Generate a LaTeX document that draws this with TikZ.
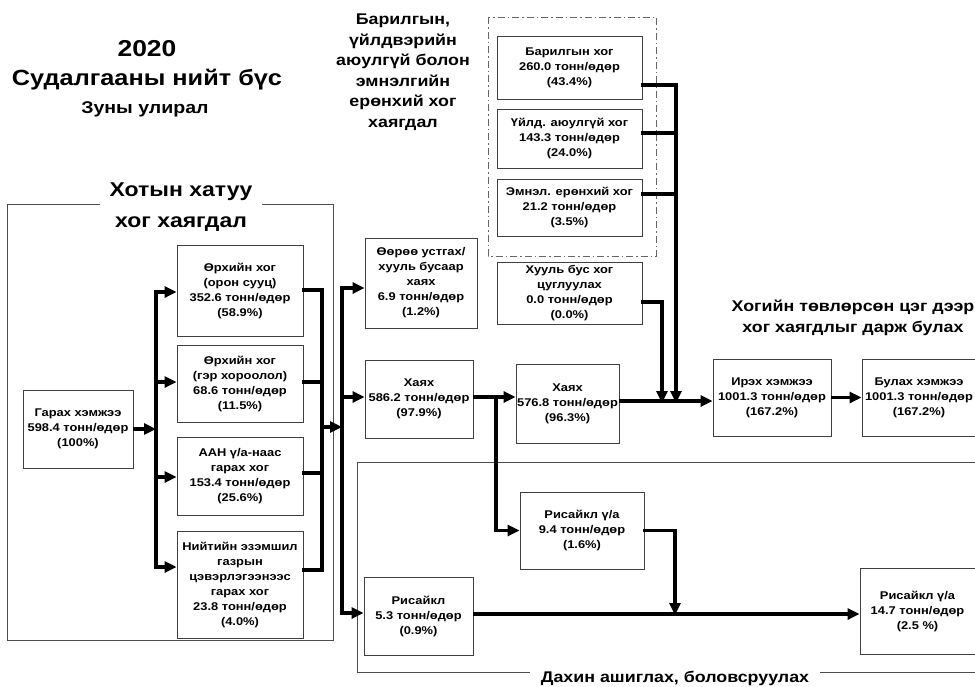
\documentclass[tikz,border=0pt]{standalone}
\usepackage{fontspec}
\setmainfont{Liberation Sans}[FakeStretch=1.15]
\usetikzlibrary{arrows.meta}

\begin{document}
\begin{tikzpicture}[x=1pt,y=-1pt,
  box/.style={draw=black!75, line width=0.9pt, fill=white, align=center,
    font=\fontsize{11.2}{15}\selectfont\bfseries, inner sep=0pt},
  conn/.style={line width=3.6pt, line cap=rect, line join=miter},
  arr/.style={line width=3.6pt, line cap=butt, -{Triangle[length=12pt,width=11pt]}},
  frameline/.style={draw=black!70, line width=0.9pt},
  dashframe/.style={draw=black!60, line width=0.9pt, dash pattern=on 7pt off 3pt on 1.5pt off 3pt},
  bigtitle/.style={font=\fontsize{22}{26}\selectfont\bfseries, align=center},
  midtitle/.style={font=\fontsize{20}{31}\selectfont\bfseries, align=center},
  smalltitle/.style={font=\fontsize{15.5}{20.5}\selectfont\bfseries, align=center}
]
\useasboundingbox (0,0) rectangle (975,686);

% ---- headings ----
\node[font=\fontsize{23}{26}\selectfont\bfseries] (year) at (147,49) {2020};
\node[bigtitle] (region) at (147,80) {Судалгааны нийт бүс};
\node[font=\fontsize{17}{20}\selectfont\bfseries] (season) at (145,109) {Зуны улирал};
\node[smalltitle] (indhead) at (403,72) {Барилгын,\\үйлдвэрийн\\аюулгүй болон\\эмнэлгийн\\ерөнхий хог\\хаягдал};
\node[midtitle] (cityhead) at (181,207) {Хотын хатуу\\хог хаягдал};
\node[smalltitle] (landhead) at (853,318) {Хогийн төвлөрсөн цэг дээр\\хог хаягдлыг дарж булах};
\node[smalltitle] (rechead) at (675,678) {Дахин ашиглах, боловсруулах};

% ---- group frames ----
\draw[frameline] (100,204) -- (7,204) -- (7,640) -- (333,640) -- (333,204) -- (262,204);
\draw[frameline] (975,462) -- (357,462) -- (357,672) -- (530,672);
\draw[frameline] (820,672) -- (975,672);
\draw[dashframe] (488,17) rectangle (656,256);

% ---- municipal waste sources ----
\node[box, minimum width=110pt, minimum height=78pt] (garah) at (78,429)
  {Гарах хэмжээ\\598.4 тонн/өдөр\\(100\%)};
\node[box, minimum width=126pt, minimum height=91pt] (orh1) at (240,290.5)
  {Өрхийн хог\\(орон сууц)\\352.6 тонн/өдөр\\(58.9\%)};
\node[box, minimum width=126pt, minimum height=77pt] (orh2) at (240,383.5)
  {Өрхийн хог\\(гэр хороолол)\\68.6 тонн/өдөр\\(11.5\%)};
\node[box, minimum width=126pt, minimum height=78pt] (aan) at (240,476)
  {ААН ү/а-наас\\гарах хог\\153.4 тонн/өдөр\\(25.6\%)};
\node[box, minimum width=126pt, minimum height=107pt] (niit) at (240,584.5)
  {Нийтийн эзэмшил\\газрын\\цэвэрлэгээнээс\\гарах хог\\23.8 тонн/өдөр\\(4.0\%)};

% ---- destinations ----
\node[box, minimum width=112pt, minimum height=90pt] (oore) at (421,283)
  {Өөрөө устгах/\\хууль бусаар\\хаях\\6.9 тонн/өдөр\\(1.2\%)};
\node[box, minimum width=108pt, minimum height=78pt] (hayah1) at (419,399)
  {Хаях\\586.2 тонн/өдөр\\(97.9\%)};
\node[box, minimum width=103pt, minimum height=79pt] (hayah2) at (567.5,404)
  {Хаях\\576.8 тонн/өдөр\\(96.3\%)};
\node[box, minimum width=145pt, minimum height=63pt] (baril) at (569.5,67.5)
  {Барилгын хог\\260.0 тонн/өдөр\\(43.4\%)};
\node[box, minimum width=145pt, minimum height=59pt] (uild) at (569.5,138.5)
  {Үйлд. аюулгүй хог\\143.3 тонн/өдөр\\(24.0\%)};
\node[box, minimum width=145pt, minimum height=57pt] (emnel) at (569.5,207.5)
  {Эмнэл. ерөнхий хог\\21.2 тонн/өдөр\\(3.5\%)};
\node[box, minimum width=145pt, minimum height=62pt] (huul) at (569.5,293)
  {Хууль бус хог\\цуглуулах\\0.0 тонн/өдөр\\(0.0\%)};
\node[box, minimum width=118pt, minimum height=77pt] (irekh) at (772,397.5)
  {Ирэх хэмжээ\\1001.3 тонн/өдөр\\(167.2\%)};
\node[box, minimum width=114pt, minimum height=77pt] (bulah) at (919,397.5)
  {Булах хэмжээ\\1001.3 тонн/өдөр\\(167.2\%)};
\node[box, minimum width=124pt, minimum height=77pt] (ris94) at (582,530.5)
  {Рисайкл ү/а\\9.4 тонн/өдөр\\(1.6\%)};
\node[box, minimum width=109pt, minimum height=78pt] (ris53) at (418.5,616)
  {Рисайкл\\5.3 тонн/өдөр\\(0.9\%)};
\node[box, minimum width=115pt, minimum height=86pt] (ris147) at (917.5,611)
  {Рисайкл ү/а\\14.7 тонн/өдөр\\(2.5 \%)};

% ---- bus coordinates ----
\coordinate (busA) at (156,429);
\coordinate (busB) at (322,427);
\coordinate (busC) at (342,427);
\coordinate (split) at (496,397);
\coordinate (mergeR) at (675,614);
\coordinate (joinH) at (662,401);
\coordinate (joinI) at (676,401);

% sources fan-out
\draw[arr] (garah.east |- busA) -- (busA);
\draw[conn] (busA |- 0,292) -- (busA |- 0,567);
\draw[arr] (busA |- 0,292) -- (busA |- 0,292 -| orh1.west);
\draw[arr] (busA |- 0,382) -- (busA |- 0,382 -| orh2.west);
\draw[arr] (busA |- 0,477) -- (busA |- 0,477 -| aan.west);
\draw[arr] (busA |- 0,567) -- (busA |- 0,567 -| niit.west);

% sources collected
\draw[conn] (orh1.east |- 0,290) -- (busB |- 0,290) -- (busB |- 0,570) -- (niit.east |- 0,570);
\draw[conn] (orh2.east |- 0,382) -- (busB |- 0,382);
\draw[conn] (aan.east |- 0,473) -- (busB |- 0,473);
\draw[arr] (busB) -- (busC);

% distribution
\draw[conn] (busC |- 0,288) -- (busC |- 0,613);
\draw[arr] (busC |- 0,288) -- (busC |- 0,288 -| oore.west);
\draw[arr] (busC |- 0,397) -- (busC |- 0,397 -| hayah1.west);
\draw[arr] (busC |- 0,613) -- (busC |- 0,613 -| ris53.west);

% disposal chain
\draw[arr] (hayah1.east |- split) -- (hayah2.west |- split);
\draw[conn] (split) -- (split |- ris94.west);
\draw[arr] (split |- ris94.west) -- (ris94.west);
\draw[conn] (ris94.east) -- (mergeR |- ris94.east);
\draw[arr] (mergeR |- ris94.east) -- ([yshift=-1pt]mergeR);
\draw[arr] (ris53.east |- mergeR) -- (ris147.west |- mergeR);

% industrial inflows
\draw[conn] (baril.east |- 0,85) -- (joinI |- 0,85);
\draw[conn] (uild.east |- 0,133) -- (joinI |- 0,133);
\draw[conn] (emnel.east |- 0,194) -- (joinI |- 0,194);
\draw[arr] (joinI |- 0,85) -- ([yshift=-2pt]joinI);
\draw[conn] (huul.east |- 0,302) -- (joinH |- 0,302);
\draw[arr] (joinH |- 0,302) -- ([yshift=-2pt]joinH);

% landfill
\draw[arr] (hayah2.east |- joinH) -- (irekh.west |- joinH);
\draw[arr] (irekh.east) -- (bulah.west);
\end{tikzpicture}
\end{document}
